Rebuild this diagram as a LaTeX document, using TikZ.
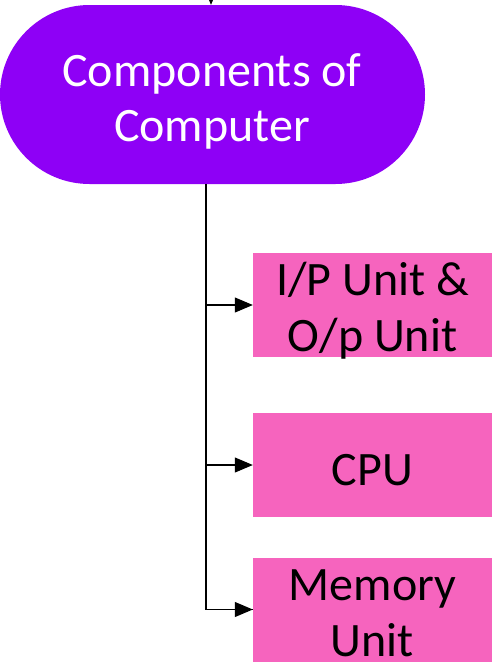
\documentclass[tikz,border=0pt]{standalone}
\usepackage{fontspec}
\setmainfont{Carlito}
\usetikzlibrary{arrows.meta,shapes.misc}
\definecolor{pillpurple}{RGB}{142,0,246}
\definecolor{boxpink}{RGB}{246,100,190}
\begin{document}
\begin{tikzpicture}[x=1pt,y=1pt,
  pill/.style={rounded rectangle, fill=pillpurple, minimum width=425pt, minimum height=179pt, inner sep=0pt},
  compbox/.style={rectangle, fill=boxpink, minimum width=239pt, minimum height=104pt, inner sep=0pt},
  pilltext/.style={anchor=base, inner sep=0pt, text=white, font=\fontsize{48}{55}\selectfont},
  boxtext/.style={anchor=base, inner sep=0pt, text=black, font=\fontsize{48}{55}\selectfont},
  conn/.style={line width=1.1pt, -{Triangle[length=18pt,width=15pt]}}]
\useasboundingbox (0,0) rectangle (500,-670);
\clip (0,0) rectangle (500,-670);
% main pill
\node[pill] (pill) at (212.5,-94.5) {};
\node[pilltext] (pillA) at (212,-86.5) {Components of};
\node[pilltext] (pillB) at (212,-141.5) {Computer};
% boxes
\node[compbox] (io) at (372.5,-305) {};
\node[boxtext] (ioA) at (372.5,-295.5) {I/P Unit \&};
\node[boxtext] (ioB) at (372.5,-351) {O/p Unit};
\node[compbox] (cpu) at (372.5,-465) {};
\node[boxtext] (cpuA) at (372.5,-485) {CPU};
\node[compbox] (mem) at (372.5,-609.5) {};
\node[boxtext] (memA) at (372.5,-600.5) {Memory};
\node[boxtext] (memB) at (372.5,-656.5) {Unit};
% incoming arrow from above
\coordinate (above) at (211,30);
\draw[conn] (above) -- (pill.north -| above);
% trunk
\coordinate (trunk) at ([xshift=-6.5pt]pill.south);
\draw[line width=1.1pt] (trunk) |- (mem.west);
\draw[conn] (trunk) |- (io.west);
\draw[conn] (trunk) |- (cpu.west);
\draw[conn] (trunk) |- (mem.west);
\end{tikzpicture}
\end{document}
